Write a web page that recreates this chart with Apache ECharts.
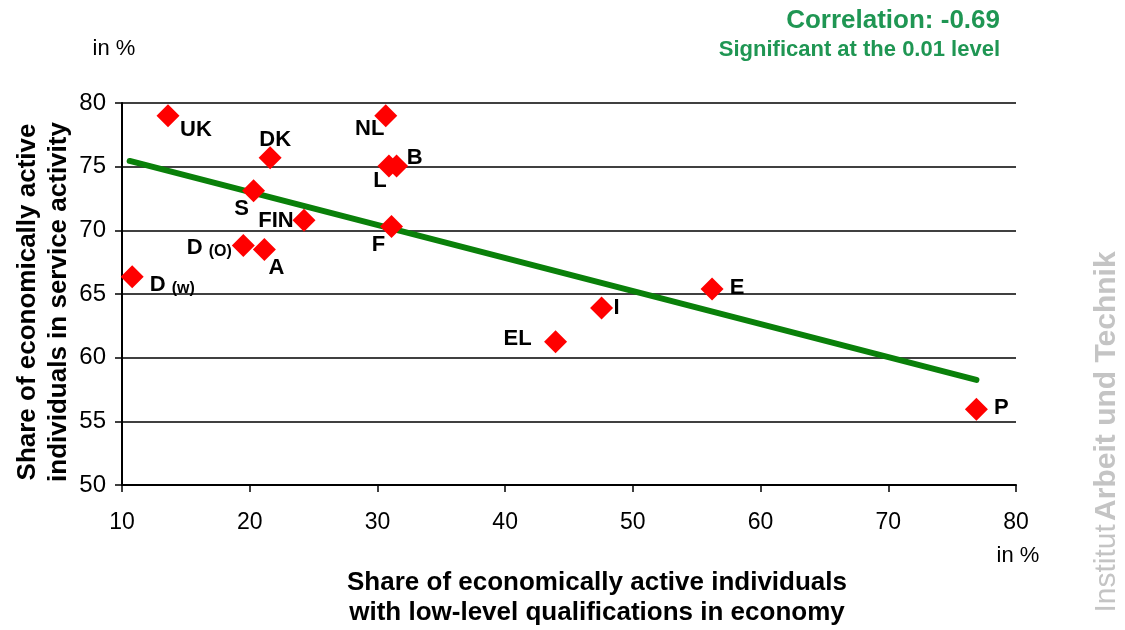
<!DOCTYPE html>
<html>
<head>
<meta charset="utf-8">
<script src="https://cdn.jsdelivr.net/npm/echarts@6/dist/echarts.min.js"></script>
<style>
  html, body { margin: 0; padding: 0; background: #fff; }
  #chart { width: 1125px; height: 630px; }
</style>
</head>
<body>
<div id="chart"></div>
<script>
// country codes and values (share low-level qualification, share in services)
const countries = ['UK', 'DK', 'NL', 'L', 'B', 'S', 'FIN', 'F', 'D_O', 'A', 'D_W', 'E', 'I', 'EL', 'P'];
const lowQual = [13.6, 21.6, 30.65, 30.9, 31.5, 20.3, 24.25, 31.1, 19.5, 21.15, 10.8, 56.2, 47.55, 43.95, 76.9];
const serviceShare = [79.0, 75.7, 79.0, 75.05, 75.05, 73.1, 70.8, 70.3, 68.8, 68.5, 66.35, 65.4, 63.9, 61.25, 55.95];
// regression line end points
const trendX = [10.6, 76.9];
const trendY = [75.45, 58.25];
const xTicks = { min: 10, max: 80, step: 10 };
const yTicks = { min: 50, max: 80, step: 5 };

// label offsets from marker centre
const labelOffset = {
  UK: [28, 14], DK: [5, -18], NL: [-16, 13], L: [-9, 15], B: [18, -8],
  S: [-12, 18], FIN: [-28, 1], F: [-13, 18], D_O: [-34, 2], A: [12, 19],
  D_W: [40, 8], E: [25, -1], I: [15, 0], EL: [-38, -3], P: [25, -1]
};
const labelText = (c) => {
  if (c === 'D_O') return 'D {s|(O)}';
  if (c === 'D_W') return 'D {s|(w)}';
  return c;
};

const points = countries.map((c, i) => ({
  value: [lowQual[i], serviceShare[i]],
  label: { offset: labelOffset[c], formatter: labelText(c) }
}));

const chart = echarts.init(document.getElementById('chart'));
const font = 'Liberation Sans, Arial, sans-serif';

chart.setOption({
  backgroundColor: '#fff',
  animation: false,
  grid: { left: 122, right: 109, top: 103, bottom: 145 },
  xAxis: {
    type: 'value',
    min: xTicks.min, max: xTicks.max, interval: xTicks.step,
    axisLine: { lineStyle: { color: '#000', width: 2 } },
    axisTick: { show: true, length: 7, lineStyle: { color: '#000', width: 1.5 } },
    axisLabel: { color: '#000', fontSize: 23, fontFamily: font, margin: 26 },
    splitLine: { show: false }
  },
  yAxis: {
    type: 'value',
    min: yTicks.min, max: yTicks.max, interval: yTicks.step,
    axisLine: { show: true, lineStyle: { color: '#000', width: 2 } },
    axisTick: { show: true, length: 7, lineStyle: { color: '#000', width: 1.5 } },
    axisLabel: { color: '#000', fontSize: 24, fontFamily: font, margin: 16 },
    splitLine: { show: true, lineStyle: { color: '#000', width: 1.5 } }
  },
  series: [
    {
      type: 'line',
      data: trendX.map((x, i) => [x, trendY[i]]),
      symbol: 'none',
      lineStyle: { color: '#0a800a', width: 6, cap: 'round' },
      z: 3
    },
    {
      type: 'scatter',
      data: points,
      symbol: 'diamond',
      symbolSize: 23,
      itemStyle: { color: '#ff0000', opacity: 1 },
      label: {
        show: true,
        position: 'inside',
        color: '#000',
        opacity: 1,
        fontSize: 22,
        fontWeight: 'bold',
        fontFamily: font,
        rich: { s: { color: '#000', fontSize: 16, fontWeight: 'bold', fontFamily: font, padding: [7, 0, 0, 0] } }
      },
      z: 4
    }
  ],
  graphic: [
    {
      type: 'text', x: 1000, y: 21,
      style: { text: 'Correlation: -0.69', font: 'bold 26px ' + font, fill: '#1f9653', align: 'right', verticalAlign: 'middle' }
    },
    {
      type: 'text', x: 1000, y: 50,
      style: { text: 'Significant at the 0.01 level', font: 'bold 22px ' + font, fill: '#1f9653', align: 'right', verticalAlign: 'middle' }
    },
    {
      type: 'text', x: 114, y: 49,
      style: { text: 'in %', font: '22px ' + font, fill: '#000', align: 'center', verticalAlign: 'middle' }
    },
    {
      type: 'text', x: 1018, y: 556,
      style: { text: 'in %', font: '22px ' + font, fill: '#000', align: 'center', verticalAlign: 'middle' }
    },
    {
      type: 'text', x: 597, y: 598,
      style: {
        text: 'Share of economically active individuals\nwith low-level qualifications in economy',
        font: 'bold 26px ' + font, fill: '#000', align: 'center', verticalAlign: 'middle', lineHeight: 30
      }
    },
    {
      type: 'text', x: 43, y: 302, rotation: Math.PI / 2,
      style: {
        text: 'Share of economically active\nindividuals in service activity',
        font: 'bold 26px ' + font, fill: '#000', align: 'center', verticalAlign: 'middle', lineHeight: 31
      }
    },
    {
      type: 'text', x: 1107, y: 432, rotation: Math.PI / 2,
      style: {
        text: '{r|Institut} {b|Arbeit und Technik}',
        fill: '#c4c4c4', align: 'center', verticalAlign: 'middle',
        rich: {
          r: { font: '30px ' + font, fill: '#c4c4c4' },
          b: { font: 'bold 30px ' + font, fill: '#c4c4c4' }
        }
      }
    }
  ]
});
</script>
</body>
</html>
